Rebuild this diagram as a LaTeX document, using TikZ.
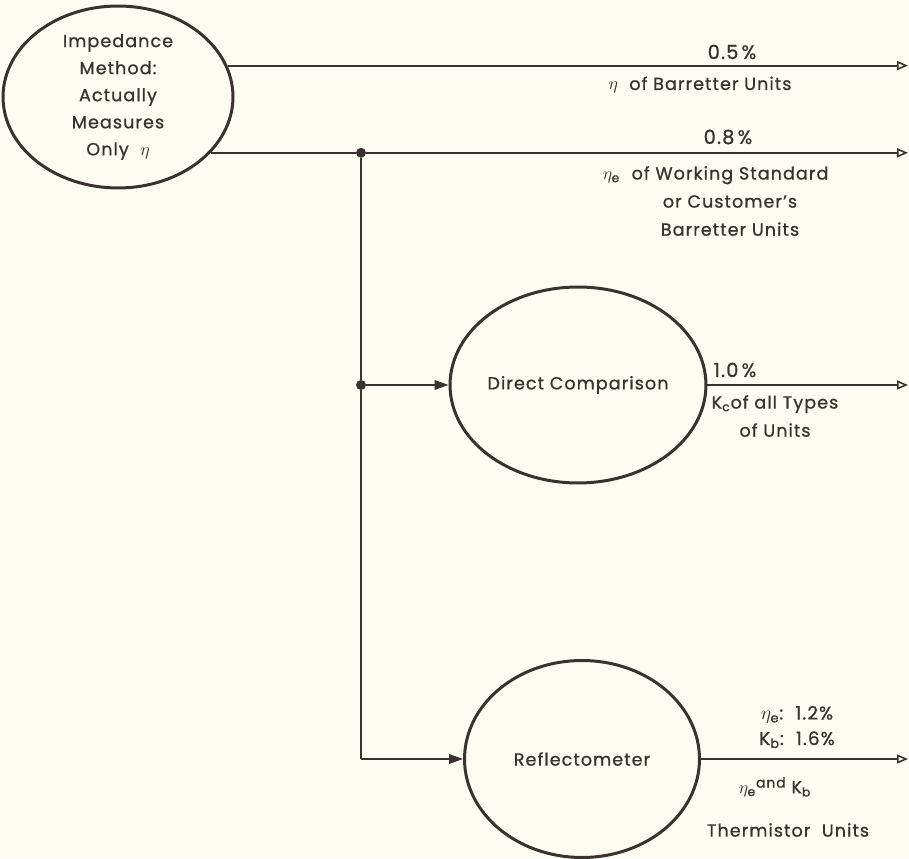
\documentclass[tikz,border=0pt]{standalone}
\usepackage{fontspec}
\setmainfont[LetterSpace=6, FakeBold=0.8]{Poppins}
\usepackage{amsmath}
\usepackage{xcolor}
\usetikzlibrary{shapes.geometric,arrows.meta,positioning,calc}
\definecolor{inkgray}{RGB}{58, 50, 46}
\definecolor{papercream}{RGB}{252, 253, 240}

\begin{document}
\begin{tikzpicture}[
    x=0.02cm, y=-0.02cm,
    bubble/.style={
        ellipse,
        draw=inkgray,
        line width=1.7pt,
        inner sep=0pt,
        align=center,
        text=inkgray,
        font=\fontsize{10}{15.4}\selectfont
    },
    link/.style={draw=inkgray, line width=1.1pt},
    outlink/.style={link, -{Triangle[open, length=0.22cm, width=0.18cm, line width=0.9pt]}},
    inlink/.style={link, -{Triangle[length=0.28cm, width=0.19cm]}},
    junction/.style={circle, fill=inkgray, inner sep=0pt, minimum size=0.2cm},
    note/.style={text=inkgray, align=center, font=\fontsize{10}{16}\selectfont}
]
    % Paper
    \fill[papercream] (0,0) rectangle (909,858);

    % Methods
    \node[bubble, minimum width=4.6cm, minimum height=3.64cm] (imp) at (118,97)
        {Impedance\\Method:\\Actually\\Measures\\Only \ $\eta$};
    \node[bubble, minimum width=4.64cm, minimum height=3.92cm] (direct) at (578,385) {Direct Comparison};
    \node[bubble, minimum width=4.7cm, minimum height=3.94cm] (refl) at (582,759) {Reflectometer};

    % Trunk and ends
    \coordinate (trunk) at (361,0);
    \coordinate (rim) at (908,0);
    \node[junction] (j1) at (imp.-31 -| trunk) {};
    \node[junction] (j2) at (trunk |- direct.west) {};
    \coordinate (corner) at (trunk |- refl.west);

    % Connectors
    \draw[outlink] (imp.16) -- (imp.16 -| rim);
    \draw[link] (imp.-31) -- (j1);
    \draw[outlink] (j1) -- (j1 -| rim);
    \draw[link] (j1) -- (j2) -- (corner);
    \draw[inlink] (j2) -- (direct.west);
    \draw[inlink] (corner) -- (refl.west);
    \draw[outlink] (direct.east) -- (direct.east -| rim);
    \draw[outlink] (refl.east) -- (refl.east -| rim);

    % Accuracies and quantities
    \node[note, font=\fontsize{11}{16}\selectfont] (pctA) at (732,52) {0.5\,\%};
    \node[note] (qtyA) at (700,85) {$\eta$ \ of Barretter Units};
    \node[note, font=\fontsize{11}{16}\selectfont] (pctB) at (728,137) {0.8\,\%};
    \node[note] (qtyB) at (730,201) {\llap{$\eta_{\text{e}}$\ \ }of Working Standard\\or Customer's\\Barretter Units};
    \node[note, font=\fontsize{11}{16}\selectfont] (pctC) at (735,370) {1.0\,\%};
    \node[note] (qtyC) at (775,416) {K$_{\text{c}}$of all Types\\of Units};
    \node[note, font=\fontsize{10.5}{14.5}\selectfont] (pctD) at (797,727) {$\eta_{\text{e}}$:\ \ 1.2\%\\K$_{\text{b}}$:\ \ 1.6\%};
    \node[note] (qtyD) at (775,787) {$\eta_{\text{e}}$\raisebox{0.6ex}{\footnotesize and} K$_{\text{b}}$};
    \node[note] (kindD) at (788,830) {Thermistor \ Units};
\end{tikzpicture}
\end{document}
